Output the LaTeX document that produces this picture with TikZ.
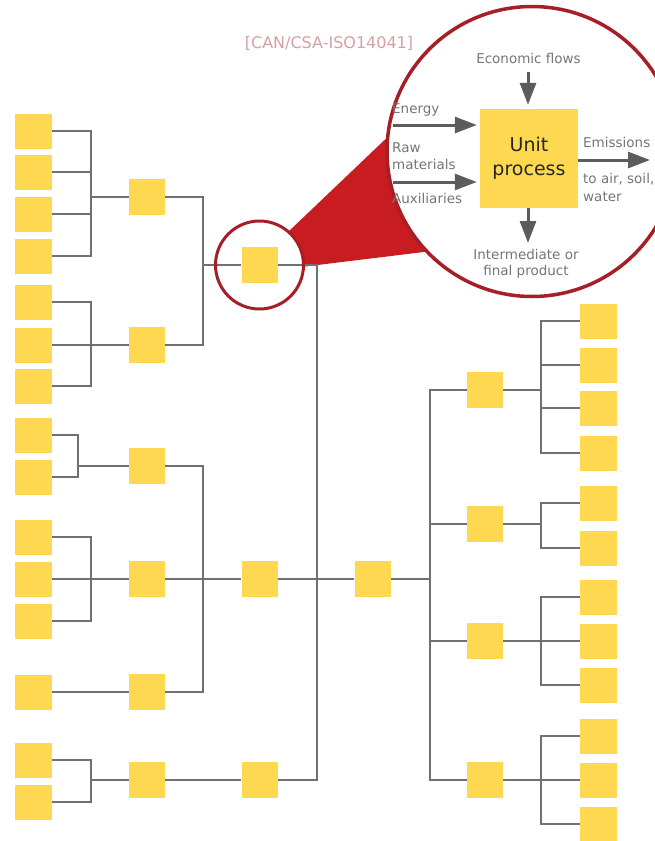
\documentclass[tikz,border=0pt]{standalone}
\usepackage{fontspec}
\setmainfont{DejaVu Sans}
\usetikzlibrary{arrows.meta}
\pgfdeclarelayer{bg}
\pgfdeclarelayer{canvas}
\pgfsetlayers{canvas,bg,main}
\definecolor{boxyellow}{RGB}{253,216,80}
\definecolor{linegrey}{RGB}{112,112,112}
\definecolor{ringred}{RGB}{166,30,38}
\definecolor{wedgered}{RGB}{200,28,32}
\definecolor{flowgrey}{RGB}{92,92,92}
\definecolor{labelgrey}{RGB}{118,118,118}
\definecolor{refpink}{RGB}{214,160,165}
\tikzset{
  leafbox/.style={fill=boxyellow, minimum width=37pt, minimum height=35pt, inner sep=0pt},
  midbox/.style={fill=boxyellow, minimum width=36pt, minimum height=36pt, inner sep=0pt},
  conn/.style={draw=linegrey, line width=1.8pt},
  flow/.style={draw=flowgrey, line width=3pt, -{Triangle[length=22pt,width=16pt]}},
  lbl/.style={text=labelgrey, font=\fontsize{13.5}{17}\selectfont, inner sep=0pt},
  ring/.style={circle, draw=ringred, inner sep=0pt}
}
\begin{document}
\begin{tikzpicture}[x=1pt,y=-1pt]
\useasboundingbox (0,0) rectangle (655,841);
\begin{pgfonlayer}{canvas}
\fill[white] (0,0) rectangle (655,841);
\end{pgfonlayer}

% ---------- left leaves ----------
\node[leafbox] (L1) at (33.5,131) {};
\node[leafbox] (L2) at (33.5,172) {};
\node[leafbox] (L3) at (33.5,214) {};
\node[leafbox] (L4) at (33.5,256) {};
\node[leafbox] (L5) at (33.5,302) {};
\node[leafbox] (L6) at (33.5,345) {};
\node[leafbox] (L7) at (33.5,386) {};
\node[leafbox] (L8) at (33.5,435) {};
\node[leafbox] (L9) at (33.5,477) {};
\node[leafbox] (L10) at (33.5,537) {};
\node[leafbox] (L11) at (33.5,579) {};
\node[leafbox] (L12) at (33.5,621) {};
\node[leafbox] (L13) at (33.5,692) {};
\node[leafbox] (L14) at (33.5,760) {};
\node[leafbox] (L15) at (33.5,802) {};

% ---------- second column ----------
\node[midbox] (A) at (147,197) {};
\node[midbox] (B) at (147,345) {};
\node[midbox] (D) at (147,466) {};
\node[midbox] (E) at (147,579) {};
\node[midbox] (F) at (147,692) {};
\node[midbox] (H) at (147,780) {};

% ---------- third column ----------
\node[midbox] (C) at (259.5,265) {};
\node[midbox] (G) at (259.5,579) {};
\node[midbox] (I) at (259.5,780) {};

% ---------- centre and right side ----------
\node[midbox] (J) at (372.5,579) {};
\node[midbox] (K1) at (485,390) {};
\node[midbox] (K2) at (485,524) {};
\node[midbox] (K3) at (485,641) {};
\node[midbox] (K4) at (485,780) {};

\node[leafbox] (R1) at (598.5,321) {};
\node[leafbox] (R2) at (598.5,365) {};
\node[leafbox] (R3) at (598.5,408) {};
\node[leafbox] (R4) at (598.5,453) {};
\node[leafbox] (R5) at (598.5,503) {};
\node[leafbox] (R6) at (598.5,548) {};
\node[leafbox] (R7) at (598.5,597) {};
\node[leafbox] (R8) at (598.5,641) {};
\node[leafbox] (R9) at (598.5,685) {};
\node[leafbox] (R10) at (598.5,736) {};
\node[leafbox] (R11) at (598.5,780) {};
\node[leafbox] (R12) at (598.5,824) {};

% ---------- bracket joints ----------
\coordinate (bA) at (91,197);
\coordinate (bB) at (91,345);
\coordinate (bD) at (78,466);
\coordinate (bE) at (91,579);
\coordinate (bH) at (91,780);
\coordinate (bC) at (203,265);
\coordinate (bG) at (203,579);
\coordinate (trunk) at (317,579);
\coordinate (bJ) at (430,579);
\coordinate (bK1) at (541,390);
\coordinate (bK2) at (541,524);
\coordinate (bK3) at (541,641);
\coordinate (bK4) at (541,780);

% ---------- zoom wedge (background) ----------
\coordinate (w0) at (244,274);
\coordinate (w1) at (395,130);
\coordinate (w2) at (440,250);
\begin{pgfonlayer}{bg}
  \fill[wedgered] (w0) -- (w1) -- (w2) -- cycle;
  \fill[white] (C.center) circle (44);
\end{pgfonlayer}

% ---------- connectors ----------
\draw[conn] (A.west) -- (bA) |- (L1.east);
\draw[conn] (bA) |- (L2.east);
\draw[conn] (bA) |- (L3.east);
\draw[conn] (bA) |- (L4.east);
\draw[conn] (B.west) -- (bB) |- (L5.east);
\draw[conn] (bB) |- (L6.east);
\draw[conn] (bB) |- (L7.east);
\draw[conn] (D.west) -- (bD) |- (L8.east);
\draw[conn] (bD) |- (L9.east);
\draw[conn] (E.west) -- (bE) |- (L10.east);
\draw[conn] (bE) |- (L11.east);
\draw[conn] (bE) |- (L12.east);
\draw[conn] (L13.east) -- (F.west);
\draw[conn] (H.west) -- (bH) |- (L14.east);
\draw[conn] (bH) |- (L15.east);

\draw[conn] (C.west) -- (bC) |- (A.east);
\draw[conn] (bC) |- (B.east);
\draw[conn] (E.east) -- (G.west);
\draw[conn] (bG) |- (D.east);
\draw[conn] (bG) |- (F.east);
\draw[conn] (H.east) -- (I.west);

\draw[conn] (G.east) -- (J.west);
\draw[conn] (trunk) |- (C.east);
\draw[conn] (trunk) |- (I.east);

\draw[conn] (J.east) -- (bJ) |- (K1.west);
\draw[conn] (bJ) |- (K2.west);
\draw[conn] (bJ) |- (K3.west);
\draw[conn] (bJ) |- (K4.west);

\draw[conn] (K1.east) -- (bK1) |- (R1.west);
\draw[conn] (bK1) |- (R2.west);
\draw[conn] (bK1) |- (R3.west);
\draw[conn] (bK1) |- (R4.west);
\draw[conn] (K2.east) -- (bK2) |- (R5.west);
\draw[conn] (bK2) |- (R6.west);
\draw[conn] (K3.east) -- (bK3) |- (R7.west);
\draw[conn] (bK3) |- (R8.west);
\draw[conn] (bK3) |- (R9.west);
\draw[conn] (K4.east) -- (bK4) |- (R10.west);
\draw[conn] (bK4) |- (R11.west);
\draw[conn] (bK4) |- (R12.west);

% ---------- small ring ----------
\node[ring, line width=3pt, minimum size=88pt] (smallring) at (C) {};

% ---------- magnifier ----------
\node[ring, line width=3.5pt, fill=white, minimum size=290pt] (lens) at (532,151.5) {};

\node[text=refpink, font=\fontsize{16}{19}\selectfont, inner sep=0pt] (ref) at (329,43.5) {[CAN/CSA-ISO14041]};

\node[fill=boxyellow, minimum width=98pt, minimum height=99pt, inner sep=0pt,
      align=center, text=black!85, font=\fontsize{19}{24}\selectfont] (UP) at (529,158.5) {Unit\\process};

\node[lbl] (econ) at (528.5,58) {Economic flows};
\node[lbl, anchor=west] (energy) at (392,109.5) {Energy};
\node[lbl, anchor=west, align=left] (raw) at (392,156) {Raw\\materials};
\node[lbl, anchor=west] (aux) at (392,198) {Auxiliaries};
\node[lbl, anchor=west] (emis) at (583,142) {Emissions};
\node[lbl, anchor=west, align=left, font=\fontsize{13.5}{18}\selectfont] (air) at (583,187) {to air, soil,\\water};
\node[lbl, align=center, font=\fontsize{13.5}{16.5}\selectfont] (prod) at (526,264) {Intermediate or\\final product};

\coordinate (econS) at (528,72);
\coordinate (enS) at (393,125);
\coordinate (rawS) at (393,182);
\coordinate (emE) at (650,160);
\coordinate (prodE) at (528,243);

\draw[flow, shorten >=4pt] (econS) -- (econS |- UP.north);
\draw[flow, shorten >=3pt] (enS) -- (enS -| UP.west);
\draw[flow, shorten >=3pt] (rawS) -- (rawS -| UP.west);
\draw[flow] (emE -| UP.east) -- (emE);
\draw[flow] (prodE |- UP.south) -- (prodE);

\end{tikzpicture}
\end{document}
